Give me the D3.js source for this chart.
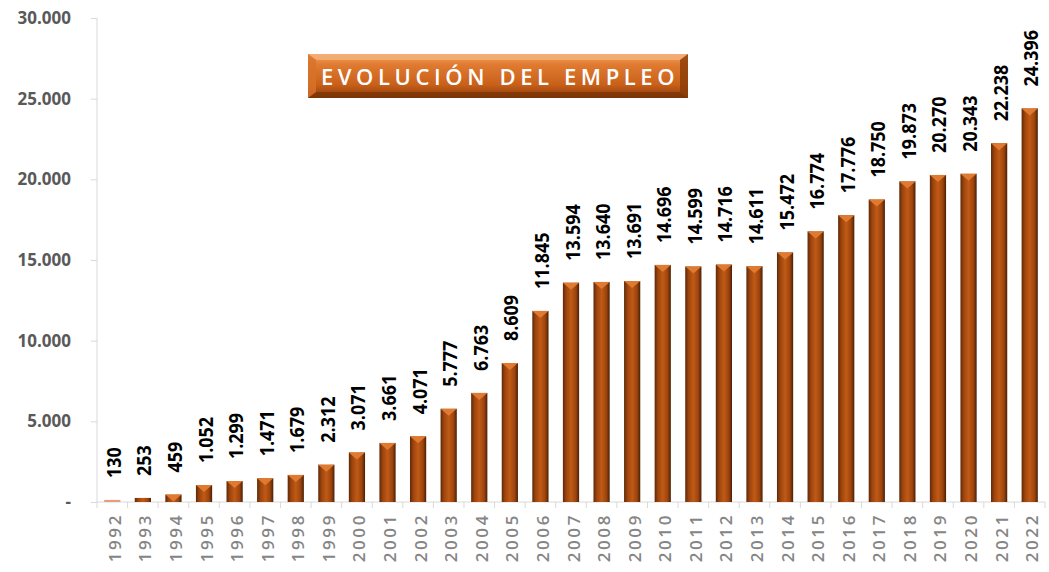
<!DOCTYPE html>
<html>
<head>
<meta charset="utf-8">
<script src="https://cdn.jsdelivr.net/npm/d3@7"></script>
<style>
  body { margin: 0; background: #fff; }
  svg { display: block; }
</style>
</head>
<body>
<div id="plot"></div>
<script>
const years = ["1992","1993","1994","1995","1996","1997","1998","1999","2000","2001","2002","2003","2004","2005","2006","2007","2008","2009","2010","2011","2012","2013","2014","2015","2016","2017","2018","2019","2020","2021","2022"];
const empleo = [130,253,459,1052,1299,1471,1679,2312,3071,3661,4071,5777,6763,8609,11845,13594,13640,13691,14696,14599,14716,14611,15472,16774,17776,18750,19873,20270,20343,22238,24396];
const yTicks = [0,5000,10000,15000,20000,25000,30000];
const title = "EVOLUCIÓN DEL EMPLEO";

const width = 1049, height = 572;
const margin = {left: 97, right: 4, top: 18, bottom: 70};

const fmt = v => v === 0 ? "-" : d3.format(",")(v).replace(/,/g, ".");

const svg = d3.select("#plot").append("svg")
  .attr("width", width)
  .attr("height", height);

const defs = svg.append("defs");

// bevelled bar look: dark edges, orange centre
let barGrad = defs.append("linearGradient").attr("id", "barGrad")
  .attr("x1", "0%").attr("x2", "100%").attr("y1", "0%").attr("y2", "0%");
barGrad.append("stop").attr("offset", "0%").attr("stop-color", "#5e2806");
barGrad.append("stop").attr("offset", "20%").attr("stop-color", "#9c440e");
barGrad.append("stop").attr("offset", "50%").attr("stop-color", "#c05a16");
barGrad.append("stop").attr("offset", "80%").attr("stop-color", "#9c440e");
barGrad.append("stop").attr("offset", "100%").attr("stop-color", "#4a1f04");

let titleGrad = defs.append("linearGradient").attr("id", "titleGrad")
  .attr("x1", "0%").attr("x2", "0%").attr("y1", "0%").attr("y2", "100%");
titleGrad.append("stop").attr("offset", "0%").attr("stop-color", "#f0a060");
titleGrad.append("stop").attr("offset", "25%").attr("stop-color", "#e07a30");
titleGrad.append("stop").attr("offset", "70%").attr("stop-color", "#c8601a");
titleGrad.append("stop").attr("offset", "100%").attr("stop-color", "#8a3a08");

const x = d3.scaleBand()
  .domain(years)
  .range([margin.left, width - margin.right])
  .paddingInner(0.47)
  .paddingOuter(0.235);

const y = d3.scaleLinear()
  .domain([0, 30000])
  .range([height - margin.bottom, margin.top]);

// y axis
const yAxis = svg.append("g")
  .attr("transform", "translate(" + margin.left + ",0)")
  .call(d3.axisLeft(y).tickValues(yTicks).tickFormat(fmt).tickSize(6).tickPadding(20));
yAxis.select(".domain").attr("stroke", "#d9d9d9").attr("d", "M0," + y(30000) + "V" + y(0));
yAxis.selectAll(".tick line").attr("stroke", "#d9d9d9");
yAxis.selectAll("text")
  .attr("fill", "#595959")
  .style("font-family", "'Open Sans', sans-serif")
  .style("font-weight", "bold")
  .style("font-size", "17px");

// x axis baseline and tick marks at category boundaries
const xAxis = svg.append("g");
xAxis.append("line")
  .attr("x1", margin.left).attr("x2", width - margin.right)
  .attr("y1", y(0)).attr("y2", y(0))
  .attr("stroke", "#d9d9d9");
const step = x.step();
const bounds = years.map(d => x(d) - (step - x.bandwidth()) / 2).concat([width - margin.right]);
xAxis.selectAll(".xt").data(bounds).join("line")
  .attr("class", "xt")
  .attr("x1", d => d).attr("x2", d => d)
  .attr("y1", y(0)).attr("y2", y(0) + 6)
  .attr("stroke", "#d9d9d9");
xAxis.selectAll(".xl").data(years).join("text")
  .attr("class", "xl")
  .attr("transform", d => "translate(" + (x(d) + x.bandwidth() / 2 + 8.5) + "," + (y(0) + 11) + ") rotate(-90)")
  .attr("text-anchor", "end")
  .attr("fill", "#858585")
  .style("font-family", "'Open Sans', sans-serif")
  .style("font-weight", "600")
  .style("font-size", "17px")
  .style("letter-spacing", "2.6px")
  .text(d => d);

// bars
const bars = svg.append("g").selectAll("g").data(years).join("g");
bars.append("rect")
  .attr("x", d => x(d))
  .attr("width", x.bandwidth())
  .attr("y", (d, i) => y(empleo[i]))
  .attr("height", (d, i) => y(0) - y(empleo[i]))
  .attr("fill", (d, i) => i === 0 ? "#e0a07a" : "url(#barGrad)");
// top bevel triangle
bars.filter(d => empleo[years.indexOf(d)] > 400).append("path")
  .attr("d", d => {
    let x0 = x(d), w = x.bandwidth(), yt = y(empleo[years.indexOf(d)]);
    return "M" + x0 + "," + yt + "H" + (x0 + w) + "L" + (x0 + w / 2) + "," + (yt + 7) + "Z";
  })
  .attr("fill", "#e07a30");

// value labels (squeezed a bit along the text, Calibri-like)
svg.append("g").selectAll("text").data(years).join("text")
  .attr("transform", (d, i) => "translate(" + (x(d) + x.bandwidth() / 2 + 8.5) + "," + (y(empleo[i]) - 22) + ") rotate(-90) scale(0.92,1)")
  .attr("text-anchor", "start")
  .attr("fill", "#000")
  .style("font-family", "'Open Sans', sans-serif")
  .style("font-weight", "bold")
  .style("font-size", "19.5px")
  .text((d, i) => fmt(empleo[i]));

// title box
const tb = svg.append("g").attr("transform", "translate(308,54)");
tb.append("rect").attr("width", 380).attr("height", 44).attr("fill", "url(#titleGrad)");
tb.append("path").attr("d", "M0,0H380L372,6H8Z").attr("fill", "#f4b07a").attr("opacity", 0.8);
tb.append("path").attr("d", "M0,44H380L372,38H8Z").attr("fill", "#7a3406").attr("opacity", 0.8);
tb.append("path").attr("d", "M380,0V44L372,38V6Z").attr("fill", "#8a3c08").attr("opacity", 0.8);
tb.append("path").attr("d", "M0,0V44L8,38V6Z").attr("fill", "#d8722a").attr("opacity", 0.8);
tb.append("text")
  .attr("x", 192).attr("y", 31)
  .attr("text-anchor", "middle")
  .attr("fill", "#fff")
  .style("font-family", "'Open Sans', sans-serif")
  .style("font-weight", "600")
  .style("font-size", "22px")
  .style("letter-spacing", "4.6px")
  .text(title);
</script>
</body>
</html>
